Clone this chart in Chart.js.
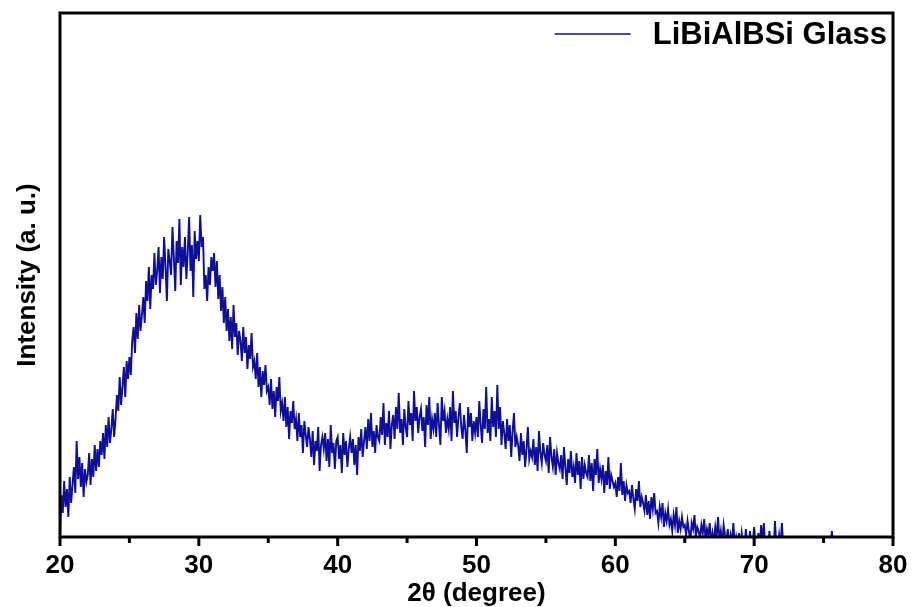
<!DOCTYPE html>
<html>
<head>
<meta charset="utf-8">
<title>LiBiAlBSi Glass XRD</title>
<script src="https://cdn.jsdelivr.net/npm/chart.js@4.4.1/dist/chart.umd.min.js"></script>
<style>
  html, body { margin: 0; padding: 0; background: #fff; }
  #wrap { width: 915px; height: 607px; position: relative; }
</style>
</head>
<body>
<div id="wrap"><canvas id="xrd-chart"></canvas></div>
<script>
// scan: 2theta from 20 to 80 deg, one reading every 0.1 deg
const scanStart = 20
const scanStep = 0.1
const seriesName = "LiBiAlBSi Glass"

// intensity (a. u.), one row per degree
const intensity = [
  0, 42, 24, 56, 30, 48, 20, 60, 34, 52,            // 20
  70, 44, 96, 58, 80, 50, 74, 40, 68, 55,           // 21
  62, 84, 52, 78, 60, 92, 66, 88, 70, 96,           // 22
  82, 104, 78, 112, 90, 120, 94, 108, 128, 100,     // 23
  118, 142, 126, 160, 132, 150, 170, 140, 176, 158, // 24
  180, 162, 196, 210, 184, 224, 198, 232, 206, 222, // 25
  240, 214, 256, 236, 270, 228, 262, 248, 284, 252, // 26
  266, 290, 244, 280, 258, 300, 270, 236, 288, 276, // 27
  262, 310, 280, 246, 296, 274, 318, 252, 290, 270, // 28
  300, 258, 284, 320, 266, 292, 240, 306, 278, 296, // 29
  276, 322, 290, 300, 248, 262, 236, 270, 252, 280, // 30
  266, 284, 250, 276, 238, 262, 226, 250, 214, 240, // 31
  206, 228, 196, 220, 188, 232, 200, 214, 182, 206, // 32
  196, 176, 210, 184, 200, 168, 192, 178, 204, 170, // 33
  176, 158, 184, 150, 170, 140, 166, 152, 172, 146, // 34
  150, 132, 158, 128, 146, 120, 150, 136, 160, 126, // 35
  134, 116, 140, 110, 130, 98, 126, 114, 136, 108,  // 36
  118, 96, 124, 100, 112, 84, 116, 102, 90, 110,    // 37
  98, 80, 106, 72, 96, 86, 110, 66, 92, 100,        // 38
  88, 104, 76, 98, 70, 112, 84, 94, 68, 96,         // 39
  100, 78, 92, 64, 104, 82, 96, 70, 88, 100,        // 40
  84, 98, 72, 92, 62, 100, 86, 108, 80, 96,         // 41
  110, 88, 118, 96, 124, 90, 106, 84, 112, 100,     // 42
  96, 120, 102, 134, 92, 114, 100, 126, 88, 112,    // 43
  122, 98, 130, 108, 144, 104, 118, 92, 128, 110,   // 44
  100, 136, 112, 124, 96, 146, 116, 130, 104, 120,  // 45
  128, 106, 120, 90, 132, 112, 140, 98, 118, 108,   // 46
  124, 100, 134, 112, 92, 140, 116, 126, 104, 118,  // 47
  108, 130, 96, 146, 114, 126, 100, 120, 134, 110,  // 48
  98, 122, 106, 84, 130, 110, 124, 96, 116, 104,    // 49
  120, 100, 136, 112, 94, 128, 108, 150, 104, 118,  // 50
  96, 140, 110, 126, 100, 152, 108, 130, 92, 116,   // 51
  104, 88, 118, 96, 112, 80, 106, 124, 90, 100,     // 52
  92, 76, 104, 82, 96, 70, 88, 110, 78, 86,         // 53
  80, 98, 72, 90, 66, 106, 84, 74, 94, 82,          // 54
  76, 92, 64, 100, 80, 70, 88, 62, 84, 74,          // 55
  68, 82, 58, 90, 70, 52, 78, 64, 86, 60,           // 56
  70, 54, 84, 62, 76, 48, 80, 58, 72, 64,           // 57
  60, 82, 56, 74, 46, 78, 62, 88, 54, 68,           // 58
  58, 72, 44, 66, 52, 80, 48, 62, 56, 50,           // 59
  54, 40, 60, 46, 74, 42, 56, 36, 52, 44,           // 60
  46, 34, 52, 38, 28, 48, 36, 56, 30, 40,           // 61
  34, 26, 42, 22, 36, 18, 40, 28, 44, 24,           // 62
  26, 14, 30, 20, 34, 10, 24, 16, 28, 12,           // 63
  18, 6, 22, 12, 30, 4, 16, 8, 20, 10,              // 64
  12, 2, 16, 6, -4, 14, 8, 22, 0, 10,               // 65
  6, -2, 12, 4, 18, -4, 8, 2, 14, -6,               // 66
  4, -6, 10, 0, 20, -4, 6, -8, 12, 2,               // 67
  -4, 8, -10, 2, -6, 14, -8, 0, -10, 4,             // 68
  -10, 4, -8, -12, 8, -6, -10, 6, -12, -4,          // 69
  10, -8, -12, 4, -10, 12, -6, 14, -12, -8,         // 70
  -10, 6, -12, -8, -14, 16, -10, -12, 2, -10,       // 71
  14, -12, -10, -14, -12, -10, -14, -12, -10, -14,  // 72
  -12, -14, -10, -12, -14, -12, -10, -14, -12, -10, // 73
  -14, -12, -10, -14, -12, -10, -12, -14, -12, -10, // 74
  -12, -14, -10, -12, -14, -10, 6, -12, -14, -10,   // 75
  -12, -14, -10, -12, -14, -12, -10, -14, -12, -10, // 76
  -14, -12, -10, -14, -12, -10, -12, -14, -12, -10, // 77
  -12, -14, -10, -12, -14, -12, -10, -14, -12, -10, // 78
  -14, -12, -10, -14, -12, -10, -12, -14, -12, -10  // 79
]

const xTicks = [20, 30, 40, 50, 60, 70, 80]

const fontFamily = "'Liberation Sans', Arial, Helvetica, sans-serif"
const lineColor = "#0e0e9c"

const points = intensity.map((v, i) => ({ x: +(scanStart + i * scanStep).toFixed(1), y: v }))

// black frame round the plot, outward tick marks (long at labels, short between)
// and the legend in the top right corner
const framePlugin = {
  id: "frame",
  afterDatasetsDraw(chart) {
    const { ctx, chartArea: a, scales } = chart
    ctx.save()
    ctx.strokeStyle = "#000"
    ctx.lineWidth = 3
    ctx.strokeRect(a.left, a.top, a.right - a.left, a.bottom - a.top)
    scales.x.ticks.forEach(t => {
      const px = scales.x.getPixelForValue(t.value)
      const len = xTicks.includes(t.value) ? 9 : 6
      ctx.beginPath()
      ctx.moveTo(px, a.bottom)
      ctx.lineTo(px, a.bottom + len)
      ctx.stroke()
    })

    const ds = chart.data.datasets[0]
    ctx.font = "bold 31px " + fontFamily
    ctx.textBaseline = "middle"
    ctx.textAlign = "left"
    const tw = ctx.measureText(ds.label).width
    const tx = a.right - 6 - tw
    const ly = a.top + 21
    ctx.strokeStyle = ds.borderColor
    ctx.lineWidth = 1.5
    ctx.beginPath()
    ctx.moveTo(tx - 98, ly)
    ctx.lineTo(tx - 22, ly)
    ctx.stroke()
    ctx.fillStyle = "#000"
    ctx.fillText(ds.label, tx, ly + 1)
    ctx.restore()
  }
}

const ctx = document.getElementById("xrd-chart").getContext("2d")

new Chart(ctx, {
  type: "line",
  data: {
    datasets: [
      {
        label: seriesName,
        data: points,
        borderColor: lineColor,
        backgroundColor: lineColor,
        borderWidth: 1.9,
        pointRadius: 0,
        tension: 0,
      },
    ],
  },
  options: {
    responsive: true,
    maintainAspectRatio: false,
    animation: false,
    layout: {
      padding: { top: 13, right: 22, left: 0, bottom: 0 }
    },
    plugins: {
      tooltip: { enabled: false },
      legend: { display: false }
    },
    scales: {
      x: {
        type: "linear",
        min: 20,
        max: 80,
        grid: { display: false },
        border: { display: false },
        afterFit: scale => {
          scale.height = 70
          scale.paddingLeft = 0
          scale.paddingRight = 0
        },
        ticks: {
          stepSize: 5,
          autoSkip: false,
          maxRotation: 0,
          padding: 5,
          color: "#000",
          font: { family: fontFamily, size: 26, weight: "bold" },
          callback: v => xTicks.includes(v) ? v : ""
        },
        title: {
          display: true,
          text: "2θ (degree)",
          color: "#000",
          padding: { top: 0, bottom: 0 },
          font: { family: fontFamily, size: 26, weight: "bold", lineHeight: 1 }
        }
      },
      y: {
        min: 0,
        max: 524,
        grid: { display: false },
        border: { display: false },
        ticks: { display: false },
        afterFit: scale => { scale.width = 60 },
        title: {
          display: true,
          text: "Intensity (a. u.)",
          color: "#000",
          padding: { top: 15, bottom: 0 },
          font: { family: fontFamily, size: 26, weight: "bold", lineHeight: 1 }
        }
      }
    }
  },
  plugins: [framePlugin]
})
</script>
</body>
</html>
